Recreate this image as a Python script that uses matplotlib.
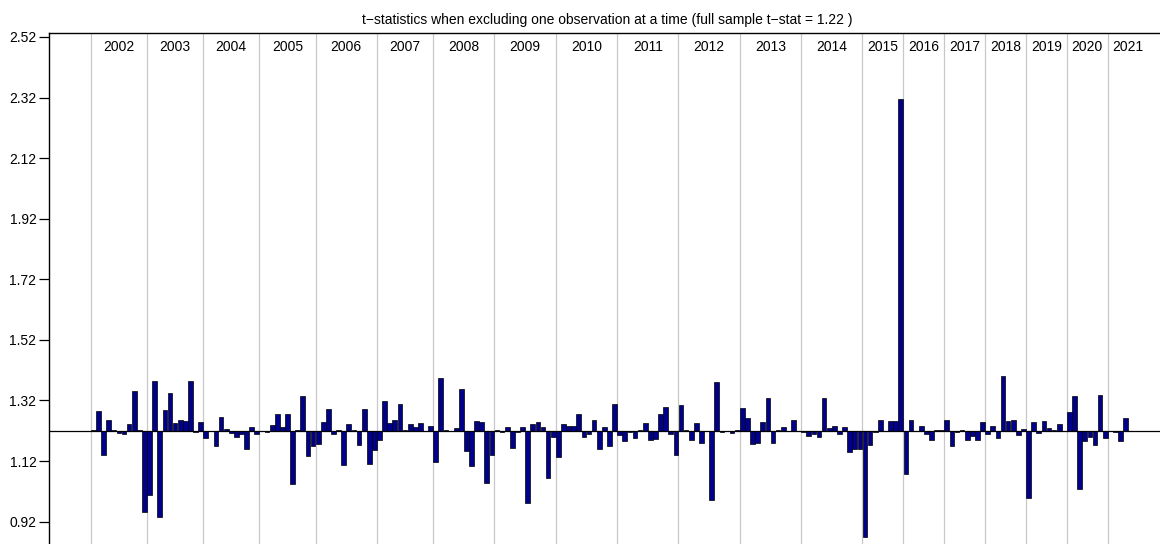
import numpy as np
import matplotlib
matplotlib.use('Agg')
import matplotlib.pyplot as plt

plt.rcParams['font.family'] = ['Liberation Sans', 'DejaVu Sans']

# full sample t-stat, bars are drawn from this line
full_t = 1.22

# t-stat when leaving out one observation, grouped by year
y2002 = [1.223, 1.286, 1.140, 1.257, 1.221, 1.213, 1.211, 1.241, 1.352, 1.222, 0.953]
y2003 = [1.008, 1.384, 0.934, 1.288, 1.344, 1.246, 1.255, 1.252, 1.385, 1.216, 1.250]
y2004 = [1.195, 1.218, 1.169, 1.266, 1.227, 1.213, 1.200, 1.211, 1.161, 1.233, 1.211]
y2005 = [1.218, 1.215, 1.239, 1.275, 1.231, 1.277, 1.046, 1.222, 1.334, 1.136, 1.170]
y2006 = [1.178, 1.249, 1.292, 1.208, 1.224, 1.108, 1.241, 1.221, 1.173, 1.293, 1.112, 1.158]
y2007 = [1.191, 1.318, 1.246, 1.255, 1.310, 1.221, 1.241, 1.231, 1.246, 1.220, 1.235]
y2008 = [1.118, 1.394, 1.221, 1.218, 1.228, 1.359, 1.154, 1.104, 1.252, 1.249, 1.049, 1.140]
y2009 = [1.221, 1.215, 1.233, 1.164, 1.216, 1.233, 0.982, 1.241, 1.250, 1.233, 1.063, 1.198]
y2010 = [1.134, 1.241, 1.235, 1.235, 1.277, 1.198, 1.209, 1.255, 1.159, 1.231, 1.169, 1.309]
y2011 = [1.206, 1.187, 1.217, 1.195, 1.222, 1.246, 1.189, 1.192, 1.274, 1.300, 1.208, 1.140]
y2012 = [1.304, 1.221, 1.191, 1.246, 1.181, 1.220, 0.993, 1.381, 1.216, 1.218, 1.213, 1.221]
y2013 = [1.294, 1.261, 1.178, 1.180, 1.250, 1.327, 1.180, 1.221, 1.233, 1.220, 1.255, 1.218]
y2014 = [1.216, 1.202, 1.208, 1.200, 1.327, 1.228, 1.235, 1.208, 1.233, 1.150, 1.161, 1.160]
y2015 = [0.870, 1.173, 1.216, 1.255, 1.218, 1.253, 1.253, 2.314]
y2016 = [1.079, 1.257, 1.220, 1.235, 1.208, 1.189, 1.221, 1.222]
y2017 = [1.257, 1.170, 1.216, 1.222, 1.188, 1.204, 1.191, 1.248]
y2018 = [1.211, 1.237, 1.197, 1.402, 1.252, 1.254, 1.205, 1.225]
y2019 = [0.999, 1.250, 1.213, 1.253, 1.230, 1.221, 1.244, 1.219]
y2020 = [1.282, 1.334, 1.027, 1.186, 1.200, 1.173, 1.338, 1.196]
y2021 = [1.220, 1.217, 1.186, 1.261]

years = list(range(2002, 2022))
values = [y2002, y2003, y2004, y2005, y2006, y2007, y2008, y2009, y2010, y2011,
          y2012, y2013, y2014, y2015, y2016, y2017, y2018, y2019, y2020, y2021]
# meeting slots per year (2021 only partly observed)
slots = [11, 11, 11, 11, 12, 11, 12, 12, 12, 12, 12, 12, 12, 8, 8, 8, 8, 8, 8, 8]

yticks = [0.92, 1.12, 1.32, 1.52, 1.72, 1.92, 2.12, 2.32, 2.52]

W, H = 1160, 544
fig = plt.figure(figsize=(W / 100, H / 100), dpi=100)
# plot region runs a little past the right and bottom edge of the picture
ax = fig.add_axes([49 / W, 1 - 550 / H, (1166 - 49) / W, (550 - 33.3) / H])

start = 0
for yr, v, n in zip(years, values, slots):
    x = np.arange(start, start + len(v))
    v = np.array(v)
    ax.bar(x, v - full_t, bottom=full_t, width=0.92, color='darkblue',
           edgecolor='black', linewidth=0.5, zorder=3)
    ax.axvline(start - 0.5, color='#c8c8c8', linewidth=0.9, zorder=1)
    ax.text(start - 0.5 + n / 2, 2.487, str(yr), ha='center', va='center', fontsize=10)
    start += n

ax.axhline(full_t, color='black', linewidth=0.9, zorder=4)

ax.set_xlim(-8.67, 209.9)
ax.set_ylim(0.8265, 2.532)
ax.set_yticks(yticks)
ax.set_yticklabels(['%.2f' % t for t in yticks])
ax.set_xticks([])
ax.tick_params(axis='y', direction='out', length=7, width=0.9, pad=2, labelsize=10)
ax.spines['right'].set_visible(False)
ax.spines['bottom'].set_visible(False)
ax.spines['left'].set_linewidth(1.0)
ax.spines['top'].set_linewidth(1.0)

ax.set_title('t\u2212statistics when excluding one observation at a time (full sample t\u2212stat = 1.22 )',
             fontsize=10, pad=7)

fig.savefig('out.png', dpi=100)
